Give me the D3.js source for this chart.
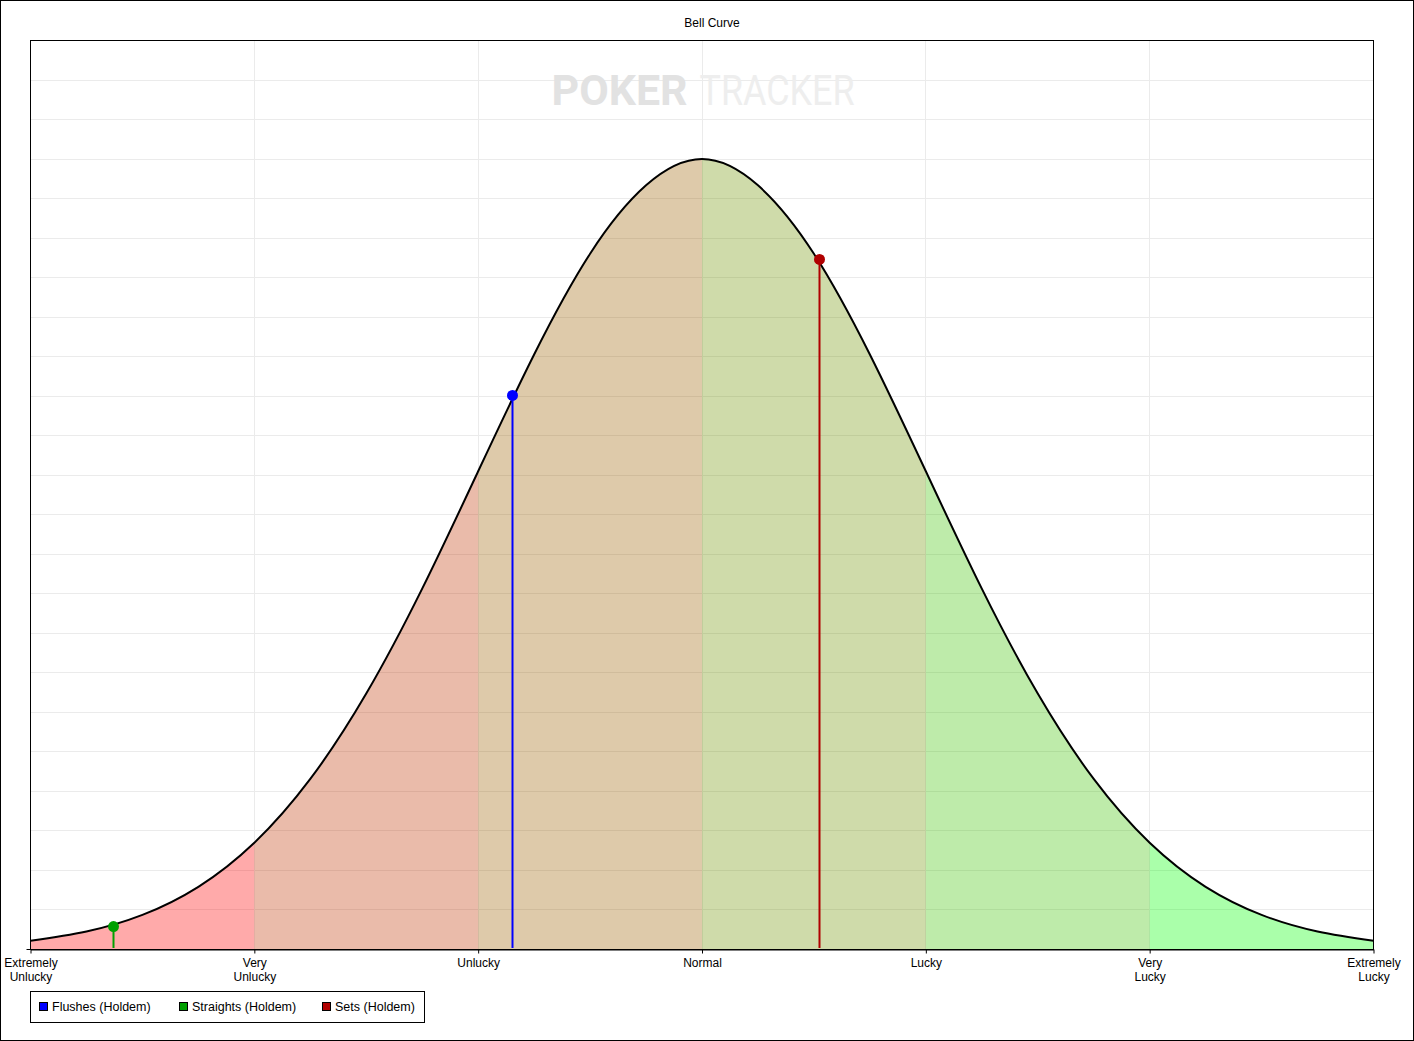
<!DOCTYPE html>
<html>
<head>
<meta charset="utf-8">
<script src="https://cdn.jsdelivr.net/npm/d3@7"></script>
<style>
  body { margin: 0; background: #fff; }
  text { font-family: "Liberation Sans", Arial, sans-serif; }
</style>
</head>
<body>
<svg id="chart" width="1414" height="1041"></svg>
<script>
'use strict';

// Category ticks along the x axis (in standard deviations)
const categoryPos = [-3, -2, -1, 0, 1, 2, 3];
const categoryLabels = [
    ['Extremely', 'Unlucky'], ['Very', 'Unlucky'], ['Unlucky'], ['Normal'],
    ['Lucky'], ['Very', 'Lucky'], ['Extremely', 'Lucky']
];

// Bell curve points
const curveX = [-3, -2.75, -2.5, -2.25, -2, -1.75, -1.5, -1.25, -1, -0.75, -0.5, -0.25, 0,
    0.25, 0.5, 0.75, 1, 1.25, 1.5, 1.75, 2, 2.25, 2.5, 2.75, 3];
const curveY = [0.0044, 0.0091, 0.0175, 0.0317, 0.0540, 0.0863, 0.1295, 0.1826, 0.2420, 0.3011, 0.3521, 0.3867, 0.4000,
    0.3867, 0.3521, 0.3011, 0.2420, 0.1826, 0.1295, 0.0863, 0.0540, 0.0317, 0.0175, 0.0091, 0.0044];

// Fill colours of each zone (drawn at 1/3 opacity)
const zoneColors = ['#ff0000', '#c03300', '#9c6000', '#6f9300', '#3cc300', '#00ff00'];

// Hand series
const seriesNames = ['Flushes (Holdem)', 'Straights (Holdem)', 'Sets (Holdem)'];
const seriesColors = ['#0000ff', '#00a000', '#b00000'];
const seriesX = [-0.845, -2.63, 0.523];
const seriesY = [0.2804, 0.0116, 0.3492];

const yTicks = d3.range(0, 0.4601, 0.02);

const W = 1414, H = 1041;
const margin = {top: 40.5, right: 40.5, bottom: 91.5, left: 30.5};
const plotW = W - margin.left - margin.right;
const plotH = H - margin.top - margin.bottom;

let svg = d3.select('#chart');

svg.append('rect')
    .attr('x', 0.5).attr('y', 0.5)
    .attr('width', W - 1).attr('height', H - 1)
    .attr('fill', '#fff').attr('stroke', '#000');

svg.append('text')
    .attr('x', 712).attr('y', 23)
    .attr('dy', '.35em')
    .attr('text-anchor', 'middle')
    .attr('font-size', 12)
    .text('Bell Curve');

let x = d3.scaleLinear().domain([-3, 3]).range([0, plotW]);
let y = d3.scaleLinear().domain([0, 0.46]).range([plotH, 0]);

let g = svg.append('g')
    .attr('transform', 'translate(' + margin.left + ',' + margin.top + ')');

// grid
g.append('g').selectAll('line')
    .data(yTicks)
    .join('line')
    .attr('x1', 0).attr('x2', plotW)
    .attr('y1', d => Math.round(y(d)))
    .attr('y2', d => Math.round(y(d)))
    .attr('stroke', '#ebebeb');

g.append('g').selectAll('line')
    .data(categoryPos)
    .join('line')
    .attr('x1', d => Math.round(x(d))).attr('x2', d => Math.round(x(d)))
    .attr('y1', 0).attr('y2', plotH)
    .attr('stroke', '#ebebeb');

// watermark
g.append('text')
    .attr('x', 521).attr('y', 64.5)
    .attr('font-size', 42)
    .attr('font-weight', 'bold')
    .attr('fill', '#e2e2e2')
    .attr('textLength', 136)
    .attr('lengthAdjust', 'spacingAndGlyphs')
    .style('font-family', 'Roboto, sans-serif')
    .text('POKER');
g.append('text')
    .attr('x', 669).attr('y', 64.5)
    .attr('font-size', 42)
    .attr('fill', '#eeeeee')
    .attr('textLength', 155)
    .attr('lengthAdjust', 'spacingAndGlyphs')
    .style('font-family', 'Roboto, sans-serif')
    .text('TRACKER');

// zones under the curve
let pts = curveX.map((d, i) => [d, curveY[i]]);
let area = d3.area()
    .x(d => x(d[0]))
    .y0(y(0))
    .y1(d => y(d[1]))
    .curve(d3.curveNatural);
let line = d3.line()
    .x(d => x(d[0]))
    .y(d => y(d[1]))
    .curve(d3.curveNatural);

let defs = svg.append('defs');
zoneColors.forEach(function (c, i) {
    defs.append('clipPath').attr('id', 'zone' + i)
        .append('rect')
        .attr('x', x(categoryPos[i])).attr('y', 0)
        .attr('width', x(categoryPos[i + 1]) - x(categoryPos[i]))
        .attr('height', plotH);
    g.append('path')
        .datum(pts)
        .attr('clip-path', 'url(#zone' + i + ')')
        .attr('d', area)
        .attr('fill', c)
        .attr('fill-opacity', 1 / 3);
});

g.append('path')
    .datum(pts)
    .attr('d', line)
    .attr('fill', 'none')
    .attr('stroke', '#000')
    .attr('stroke-width', 2);

// markers
let markers = g.append('g').selectAll('g')
    .data(seriesNames)
    .join('g');
markers.append('line')
    .attr('x1', (d, i) => Math.round(x(seriesX[i])))
    .attr('x2', (d, i) => Math.round(x(seriesX[i])))
    .attr('y1', (d, i) => y(seriesY[i]))
    .attr('y2', plotH - 1.5)
    .attr('stroke', (d, i) => seriesColors[i])
    .attr('stroke-width', 2);
markers.append('circle')
    .attr('cx', (d, i) => Math.round(x(seriesX[i])))
    .attr('cy', (d, i) => y(seriesY[i]))
    .attr('r', 5.5)
    .attr('fill', (d, i) => seriesColors[i]);

// frame
g.append('rect')
    .attr('width', plotW).attr('height', plotH)
    .attr('fill', 'none').attr('stroke', '#000');
g.append('line')
    .attr('x1', -4).attr('x2', 0)
    .attr('y1', plotH).attr('y2', plotH)
    .attr('stroke', '#000');

// x axis
let xAxis = g.append('g')
    .attr('transform', 'translate(0,' + plotH + ')')
    .call(d3.axisBottom(x).tickValues(categoryPos).tickSize(4).tickSizeOuter(0).tickFormat(''));
xAxis.select('.domain').attr('stroke', '#000');
xAxis.selectAll('.tick line').attr('stroke', '#000');
xAxis.selectAll('.tick').each(function (d, i) {
    let t = d3.select(this).append('text')
        .attr('fill', '#000')
        .attr('font-size', 12)
        .attr('text-anchor', 'middle')
        .attr('y', 17);
    categoryLabels[i].forEach(function (s, j) {
        t.append('tspan').attr('x', 0).attr('dy', j === 0 ? 0 : 14).text(s);
    });
});

// legend
let legend = svg.append('g');
legend.append('rect')
    .attr('x', 30.5).attr('y', 991.5)
    .attr('width', 394).attr('height', 31)
    .attr('fill', '#fff').attr('stroke', '#000');
const legendX = [39, 179, 322];
let items = legend.selectAll('g.item')
    .data(seriesNames)
    .join('g')
    .attr('class', 'item')
    .attr('transform', (d, i) => 'translate(' + legendX[i] + ',1002)');
items.append('rect')
    .attr('x', 0.5).attr('y', 0.5)
    .attr('width', 8).attr('height', 8)
    .attr('fill', (d, i) => seriesColors[i])
    .attr('stroke', '#000');
items.append('text')
    .attr('x', 13).attr('y', 4.5)
    .attr('dy', '.35em')
    .attr('font-size', 12.5)
    .text(d => d);
</script>
</body>
</html>
